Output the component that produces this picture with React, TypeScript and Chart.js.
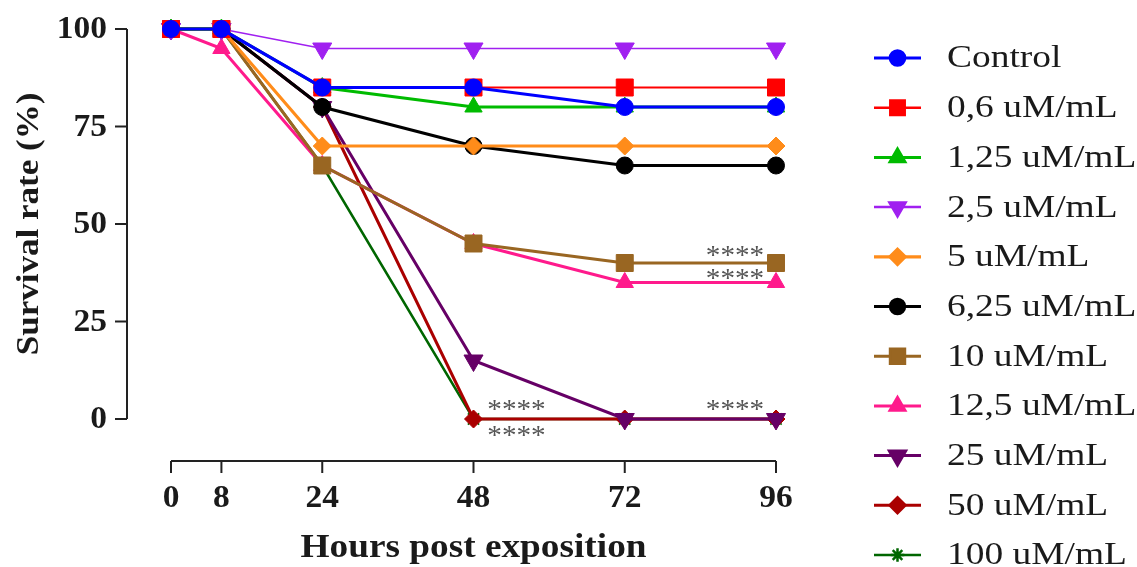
import React, { useEffect, useRef } from "react";
import { Chart, registerables } from "chart.js";
import { drawPoint } from "chart.js/helpers";

Chart.register(...registerables);

const hours = [0, 8, 24, 48, 72, 96];
const xTickLabels = ["0", "8", "24", "48", "72", "96"];
const yTicks = [0, 25, 50, 75, 100];

const seriesNames = [
  "Control",
  "0,6 uM/mL",
  "1,25 uM/mL",
  "2,5 uM/mL",
  "5 uM/mL",
  "6,25 uM/mL",
  "10 uM/mL",
  "12,5 uM/mL",
  "25 uM/mL",
  "50 uM/mL",
  "100 uM/mL",
];

const control = [100, 100, 85, 85, 80, 80];
const c06 = [100, 100, 85, 85, 85, 85];
const c125 = [100, 100, 85, 80, 80, 80];
const c25 = [100, 100, 95, 95, 95, 95];
const c5 = [100, 100, 70, 70, 70, 70];
const c625 = [100, 100, 80, 70, 65, 65];
const c10 = [100, 100, 65, 45, 40, 40];
const c125b = [100, 95, 65, 45, 35, 35];
const c25b = [100, 100, 80, 15, 0, 0];
const c50 = [100, 100, 80, 0, 0, 0];
const c100 = [100, 100, 65, 0, 0, 0];

const seriesValues = [control, c06, c125, c25, c5, c625, c10, c125b, c25b, c50, c100];

// significance marks: anchored at a data point (hour, value) with a pixel offset
const sigMarks = [
  { hour: 48, value: 0, text: "****", dx: 43, dy: -14 },
  { hour: 48, value: 0, text: "****", dx: 43, dy: 12 },
  { hour: 96, value: 40, text: "****", dx: -41, dy: -12 },
  { hour: 96, value: 40, text: "****", dx: -41, dy: 11 },
  { hour: 96, value: 0, text: "****", dx: -41, dy: -14 },
];

const styles = [
  { color: "#0000ff", width: 3.2, shape: "circle", rot: 0, r: 8.5 },
  { color: "#ff0000", width: 1.8, shape: "rect", rot: 0, r: 12 },
  { color: "#00bb00", width: 3, shape: "triangle", rot: 0, r: 10 },
  { color: "#a020f0", width: 1.7, shape: "triangle", rot: 180, r: 11 },
  { color: "#ff8c1a", width: 3.2, shape: "rectRot", rot: 0, r: 9 },
  { color: "#000000", width: 3, shape: "circle", rot: 0, r: 8.5 },
  { color: "#996622", width: 3, shape: "rect", rot: 0, r: 12 },
  { color: "#ff1a8c", width: 3, shape: "triangle", rot: 0, r: 10 },
  { color: "#660066", width: 3, shape: "triangle", rot: 180, r: 11 },
  { color: "#aa0000", width: 3, shape: "rectRot", rot: 0, r: 9 },
  { color: "#006600", width: 2.5, shape: "star", rot: 0, r: 8 },
];

const TEXT = "#1a1a1a";
const SERIF = "'Liberation Serif', 'Times New Roman', serif";

function stretchText(ctx: CanvasRenderingContext2D, text: string, x: number, y: number, sx: number, rotate = 0) {
  ctx.save();
  ctx.translate(x, y);
  if (rotate) ctx.rotate(rotate);
  ctx.scale(sx, 1);
  ctx.fillText(text, 0, 0);
  ctx.restore();
}

const axesPlugin = {
  id: "prismAxes",
  afterDraw(chart: any) {
    const ctx = chart.ctx;
    const xs = chart.scales.x;
    const ys = chart.scales.y;
    const x0 = xs.getPixelForValue(0);
    const x1 = xs.getPixelForValue(96);
    const y0 = ys.getPixelForValue(0);
    const y1 = ys.getPixelForValue(100);
    const yAxisX = x0 - 44;
    const xAxisY = y0 + 42;
    ctx.save();
    ctx.strokeStyle = "#222";
    ctx.lineWidth = 2;
    // y axis
    ctx.beginPath();
    ctx.moveTo(yAxisX, y1);
    ctx.lineTo(yAxisX, y0);
    for (const t of yTicks) {
      const py = ys.getPixelForValue(t);
      ctx.moveTo(yAxisX, py);
      ctx.lineTo(yAxisX - 12, py);
    }
    ctx.stroke();
    // x axis
    ctx.beginPath();
    ctx.moveTo(x0, xAxisY);
    ctx.lineTo(x1, xAxisY);
    hours.forEach((h) => {
      const px = xs.getPixelForValue(h);
      ctx.moveTo(px, xAxisY);
      ctx.lineTo(px, xAxisY + 12);
    });
    ctx.stroke();
    ctx.fillStyle = TEXT;
    ctx.font = `bold 31px ${SERIF}`;
    ctx.textAlign = "right";
    ctx.textBaseline = "middle";
    for (const t of yTicks) {
      stretchText(ctx, String(t), yAxisX - 20, ys.getPixelForValue(t) + 1, 1.08);
    }
    ctx.textAlign = "center";
    hours.forEach((h, i) => {
      stretchText(ctx, xTickLabels[i], xs.getPixelForValue(h), xAxisY + 38, 1.08);
    });
    ctx.font = `bold 33px ${SERIF}`;
    stretchText(ctx, "Hours post exposition", (x0 + x1) / 2, xAxisY + 87, 1.13);
    ctx.font = `bold 31px ${SERIF}`;
    stretchText(ctx, "Survival rate (%)", 30, (y0 + y1) / 2, 1.13, -Math.PI / 2);

    // significance marks
    ctx.fillStyle = "#555";
    ctx.font = `27px ${SERIF}`;
    ctx.textAlign = "center";
    ctx.textBaseline = "alphabetic";
    for (const m of sigMarks) {
      const px = xs.getPixelForValue(m.hour) + m.dx;
      const py = ys.getPixelForValue(m.value) + m.dy;
      stretchText(ctx, m.text, px, py + 13, 1.08);
    }

    // legend
    const lx0 = 874;
    const lx1 = 921;
    const ltx = 947;
    const ly0 = 58;
    const lstep = 49.7;
    ctx.font = `32px ${SERIF}`;
    ctx.textAlign = "left";
    ctx.textBaseline = "middle";
    seriesNames.forEach((name, i) => {
      const s = styles[i];
      const y = ly0 + i * lstep;
      ctx.strokeStyle = s.color;
      ctx.lineWidth = Math.max(2.5, s.width);
      ctx.beginPath();
      ctx.moveTo(lx0, y);
      ctx.lineTo(lx1, y);
      ctx.stroke();
      ctx.fillStyle = s.color;
      ctx.strokeStyle = s.color;
      drawPoint(ctx, { pointStyle: s.shape, rotation: s.rot, radius: s.r * 0.85, borderWidth: s.shape === "star" ? 1.6 : 1.2 } as any, (lx0 + lx1) / 2, y);
      ctx.fillStyle = TEXT;
      stretchText(ctx, name, ltx, y + 1, 1.17);
    });
    ctx.restore();
  },
};

export default function App() {
  const ref = useRef<HTMLCanvasElement | null>(null);
  useEffect(() => {
    if (!ref.current) return;
    const datasets = seriesNames.map((name, i) => {
      const s = styles[i];
      return {
        label: name,
        data: hours.map((h, j) => ({ x: h, y: seriesValues[i][j] })),
        borderColor: s.color,
        backgroundColor: s.color,
        borderWidth: s.width,
        pointStyle: s.shape as any,
        pointRotation: s.rot,
        pointRadius: s.r,
        pointBackgroundColor: s.color,
        pointBorderColor: s.color,
        pointBorderWidth: s.shape === "star" ? 1.6 : 1,
        tension: 0,
        clip: false as any,
      };
    });
    const chart = new Chart(ref.current, {
      type: "line",
      data: { datasets },
      options: {
        animation: false,
        responsive: false,
        devicePixelRatio: 1,
        layout: { padding: { left: 171, right: 361, top: 29, bottom: 148 } },
        plugins: { legend: { display: false }, tooltip: { enabled: false } },
        scales: {
          x: { type: "linear", min: 0, max: 96, display: false },
          y: { type: "linear", min: 0, max: 100, display: false },
        },
      },
      plugins: [axesPlugin],
    });
    return () => chart.destroy();
  }, []);
  return (
    <div style={{ position: "absolute", left: 0, top: 0, width: 1137, height: 567, background: "#fff" }}>
      <canvas ref={ref} width={1137} height={567} style={{ display: "block", width: 1137, height: 567 }} />
    </div>
  );
}
